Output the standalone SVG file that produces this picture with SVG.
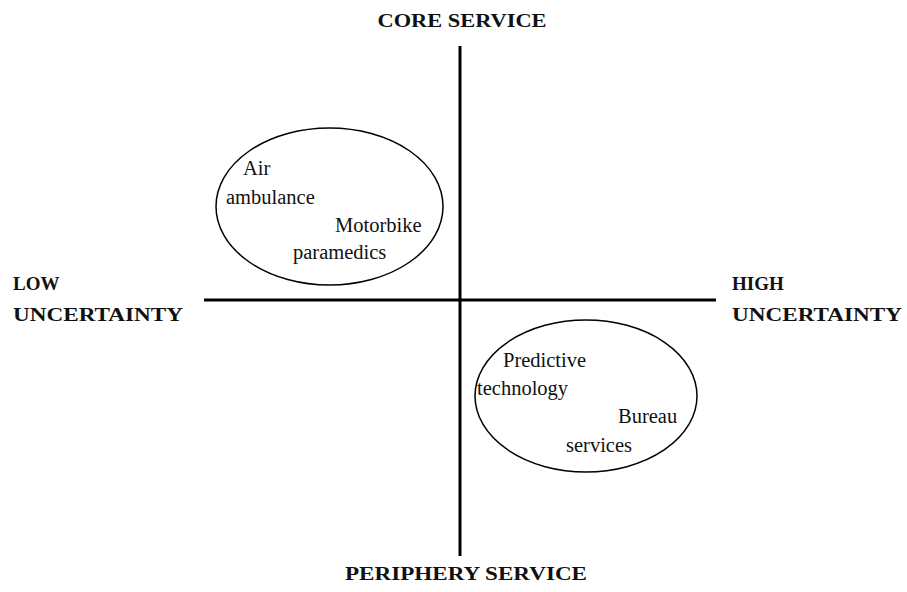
<svg xmlns="http://www.w3.org/2000/svg" width="907" height="592" viewBox="0 0 907 592">
  <style>
    .axis { stroke: #000; stroke-width: 3; fill: none; }
    .blob { stroke: #000; stroke-width: 1.5; fill: #fff; }
    .lbl { font-family: "Liberation Serif", "Times New Roman", serif; font-size: 20.5px; fill: #111; }
    .hdr { font-family: "Liberation Serif", "Times New Roman", serif; font-size: 19px; font-weight: bold; fill: #111; }
  </style>
  <rect width="907" height="592" fill="#fff"/>

  <g id="connectors">
    <line class="axis" x1="460" y1="46" x2="460" y2="556"/>
    <line class="axis" x1="204" y1="300" x2="716" y2="300"/>
  </g>

  <g id="core-service">
    <text class="hdr" x="462" y="27" text-anchor="middle" textLength="169" lengthAdjust="spacingAndGlyphs">CORE SERVICE</text>
  </g>
  <g id="periphery-service">
    <text class="hdr" x="466" y="580" text-anchor="middle" textLength="242" lengthAdjust="spacingAndGlyphs">PERIPHERY SERVICE</text>
  </g>
  <g id="low-uncertainty">
    <text class="hdr" x="13" y="290">LOW</text>
    <text class="hdr" x="13" y="321" textLength="170" lengthAdjust="spacingAndGlyphs">UNCERTAINTY</text>
  </g>
  <g id="high-uncertainty">
    <text class="hdr" x="732" y="290">HIGH</text>
    <text class="hdr" x="732" y="321" textLength="170" lengthAdjust="spacingAndGlyphs">UNCERTAINTY</text>
  </g>

  <g id="core-low">
    <ellipse class="blob" cx="329.5" cy="206.5" rx="113.5" ry="78.5"/>
    <text class="lbl" x="243" y="175">Air</text>
    <text class="lbl" x="226" y="204">ambulance</text>
    <text class="lbl" x="335" y="232">Motorbike</text>
    <text class="lbl" x="293" y="259">paramedics</text>
  </g>

  <g id="periphery-high">
    <ellipse class="blob" cx="586" cy="396" rx="111" ry="76"/>
    <text class="lbl" x="503" y="367">Predictive</text>
    <text class="lbl" x="477" y="395">technology</text>
    <text class="lbl" x="618" y="423">Bureau</text>
    <text class="lbl" x="566" y="452">services</text>
  </g>
</svg>
